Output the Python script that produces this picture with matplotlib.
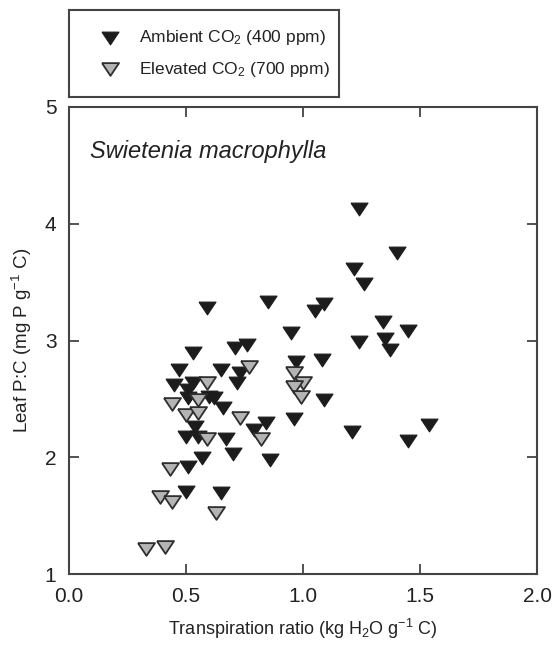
import matplotlib.pyplot as plt

plt.rcParams['font.family'] = ['Liberation Sans', 'DejaVu Sans']
plt.rcParams['mathtext.fontset'] = 'custom'
plt.rcParams['mathtext.rm'] = 'Liberation Sans'
plt.rcParams['mathtext.it'] = 'Liberation Sans:italic'

# Data
ambient_x = [1.24, 1.40, 1.22, 1.26, 1.09, 1.05, 0.95, 1.34, 1.45, 1.24, 1.35, 1.37,
             0.97, 1.08, 1.09, 0.96, 1.21, 1.54, 1.45, 0.85, 0.84, 0.86, 0.71, 0.76,
             0.65, 0.73, 0.72, 0.62, 0.66, 0.79, 0.67, 0.70, 0.57, 0.65, 0.59, 0.53,
             0.47, 0.45, 0.53, 0.51, 0.51, 0.60, 0.54, 0.50, 0.55, 0.51, 0.50]
ambient_y = [4.13, 3.75, 3.61, 3.48, 3.31, 3.25, 3.06, 3.16, 3.08, 2.99, 3.01, 2.92,
             2.82, 2.83, 2.49, 2.33, 2.22, 2.28, 2.14, 3.33, 2.29, 1.98, 2.94, 2.96,
             2.75, 2.72, 2.64, 2.51, 2.42, 2.23, 2.16, 2.03, 1.99, 1.69, 3.28, 2.89,
             2.75, 2.62, 2.64, 2.58, 2.51, 2.52, 2.26, 2.17, 2.17, 1.92, 1.70]

elevated_x = [0.96, 1.00, 0.96, 0.99, 0.82, 0.77, 0.59, 0.73, 0.59, 0.44, 0.50,
              0.55, 0.55, 0.43, 0.39, 0.44, 0.63, 0.33, 0.41]
elevated_y = [2.72, 2.64, 2.60, 2.52, 2.16, 2.77, 2.64, 2.34, 2.16, 2.46, 2.36,
              2.38, 2.49, 1.90, 1.66, 1.62, 1.52, 1.21, 1.23]

# flattened downward triangle
tri = [(-1, 0.75), (1, 0.75), (0, -0.75), (-1, 0.75)]

fig = plt.figure(figsize=(5.56, 6.48), dpi=100)
ax = fig.add_axes([69/556, 74/648, 468/556, 467/648])

amb = ax.scatter(ambient_x, ambient_y, marker=tri, s=150, facecolor='#1c1c1c',
                 edgecolor='#1c1c1c', linewidths=0.8, zorder=3,
                 label='Ambient CO$_2$ (400 ppm)')
elev = ax.scatter(elevated_x, elevated_y, marker=tri, s=150, facecolor='#b4b4b4',
                  edgecolor='#2e2e2e', linewidths=1.3, zorder=4,
                  label='Elevated CO$_2$ (700 ppm)')

ax.set_xlim(0, 2.0)
ax.set_ylim(1, 5)
ax.set_xticks([0.0, 0.5, 1.0, 1.5, 2.0])
ax.set_xticklabels(['0.0', '0.5', '1.0', '1.5', '2.0'])
ax.set_yticks([1, 2, 3, 4, 5])
ax.tick_params(direction='in', top=True, right=True, length=7, width=1.3,
               color='#444444', labelsize=15, labelcolor='#222222', pad=9)
for sp in ax.spines.values():
    sp.set_color('#444444')
    sp.set_linewidth(1.5)

ax.set_xlabel('Transpiration ratio (kg H$_2$O g$^{-1}$ C)', fontsize=13,
              color='#222222', labelpad=8)
ax.set_ylabel('Leaf P:C (mg P g$^{-1}$ C)', fontsize=13.5, color='#222222',
              labelpad=8)
ax.text(0.045, 0.905, 'Swietenia macrophylla', transform=ax.transAxes,
        fontsize=17, style='italic', color='#222222', va='center')

# legend box as its own small axes
lax = fig.add_axes([69/556, 1 - 97/648, 270/556, 87/648])
lax.set_xticks([])
lax.set_yticks([])
for sp in lax.spines.values():
    sp.set_color('#444444')
    sp.set_linewidth(1.5)
leg = lax.legend(handles=[amb, elev], loc='center left',
                 bbox_to_anchor=(32/270, 0.5), fontsize=12.5,
                 frameon=False, borderpad=0, borderaxespad=0,
                 handlelength=1.0, handletextpad=1.2, labelspacing=0.7)
for t in leg.get_texts():
    t.set_color('#222222')

fig.savefig('out.png', dpi=100)
